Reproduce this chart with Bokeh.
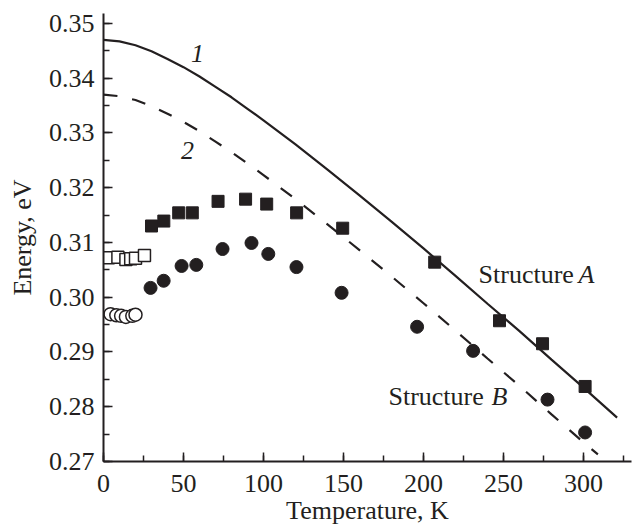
from bokeh.plotting import figure
from bokeh.models import Range1d, SingleIntervalTicker, NumeralTickFormatter, Label
from bokeh.embed import file_html
from bokeh.resources import INLINE

# Curve 1 (solid, structure A fit)
t1 = [0, 10, 20, 30, 40, 50, 60, 70, 80, 90, 100, 120, 140, 160, 180, 200, 220,
      240, 260, 280, 300, 321]
e1 = [0.3470, 0.3467, 0.3460, 0.3449, 0.3435, 0.3420, 0.3403, 0.3384, 0.3365,
      0.3344, 0.3323, 0.3279, 0.3233, 0.3186, 0.3138, 0.3089, 0.3039, 0.2988,
      0.2938, 0.2886, 0.2835, 0.2780]
# Curve 2 (dashed, structure B fit)
t2 = [0, 10, 20, 30, 40, 50, 60, 70, 80, 90, 100, 120, 140, 160, 180, 200, 220,
      240, 260, 280, 300, 309]
e2 = [0.3370, 0.3367, 0.3360, 0.3349, 0.3335, 0.3320, 0.3303, 0.3284, 0.3265,
      0.3244, 0.3223, 0.3179, 0.3133, 0.3086, 0.3038, 0.2989, 0.2939, 0.2888,
      0.2838, 0.2786, 0.2735, 0.2713]

# Structure A, filled squares
ta = [30, 37.7, 47, 55.5, 71.6, 88.8, 102, 120.7, 149.5, 207, 247.5, 274.4, 301]
ea = [0.3130, 0.3139, 0.3154, 0.3154, 0.3175, 0.3179, 0.3170, 0.3154, 0.3126,
      0.3064, 0.2957, 0.2915, 0.2837]
# Structure A, open squares (low T)
ta_o = [3, 9, 14, 17, 20, 25.6]
ea_o = [0.3072, 0.3073, 0.3069, 0.3070, 0.3071, 0.3076]

# Structure B, filled circles
tb = [29.4, 37.6, 48.8, 58, 74.4, 92.5, 103, 120.6, 148.8, 196, 231, 277.5, 301]
eb = [0.3017, 0.3030, 0.3057, 0.3059, 0.3088, 0.3099, 0.3079, 0.3055, 0.3008,
      0.2946, 0.2902, 0.2813, 0.2753]
# Structure B, open circles (low T)
tb_o = [4.4, 8, 11, 14, 18, 20]
eb_o = [0.2969, 0.2967, 0.2966, 0.2964, 0.2966, 0.2968]

FONT = "Liberation Serif"
INK = "#231f20"

p = figure(width=641, height=527, output_backend="svg", toolbar_location=None,
           x_range=Range1d(0, 330), y_range=Range1d(0.27, 0.3518),
           min_border_left=103, min_border_right=10, min_border_top=13,
           min_border_bottom=65)
p.outline_line_color = None
p.xgrid.visible = False
p.ygrid.visible = False
p.background_fill_color = "white"
p.border_fill_color = "white"

p.xaxis.ticker = SingleIntervalTicker(interval=50, num_minor_ticks=2)
p.yaxis.ticker = SingleIntervalTicker(interval=0.01, num_minor_ticks=2)
p.yaxis.formatter = NumeralTickFormatter(format="0.00")
p.xaxis.axis_label = "Temperature, K"
p.yaxis.axis_label = "Energy, eV"

for ax in (p.xaxis, p.yaxis):
    ax.axis_line_width = 2
    ax.axis_line_color = INK
    ax.major_tick_line_color = INK
    ax.minor_tick_line_color = INK
    ax.major_tick_line_width = 1.5
    ax.minor_tick_line_width = 1.5
    ax.major_tick_in = 9
    ax.major_tick_out = 0
    ax.minor_tick_in = 6
    ax.minor_tick_out = 0
    ax.major_label_text_font = FONT
    ax.major_label_text_font_size = "26px"
    ax.major_label_text_color = INK
    ax.axis_label_text_font = FONT
    ax.axis_label_text_font_size = "26px"
    ax.axis_label_text_font_style = "normal"
    ax.axis_label_text_color = INK

p.xaxis.major_label_standoff = 13
p.xaxis.axis_label_standoff = 1
p.yaxis.major_label_standoff = 9
p.yaxis.axis_label_standoff = 9

p.line(t1, e1, line_color=INK, line_width=2.2)
p.line(t2, e2, line_color=INK, line_width=2.2, line_dash="14 15")

p.scatter(ta, ea, marker="square", size=12, fill_color=INK, line_color=INK)
p.scatter(tb, eb, marker="circle", size=13, fill_color=INK, line_color=INK)
p.scatter(ta_o, ea_o, marker="square", size=12, fill_color="white",
          line_color=INK, line_width=1.5)
p.scatter(tb_o, eb_o, marker="circle", size=13, fill_color="white",
          line_color=INK, line_width=1.5)

def lab(x, y, text, style="normal", align="left", xo=0):
    p.add_layout(Label(x=x, y=y, text=text, x_offset=xo, text_font=FONT,
                       text_font_size="26px", text_font_style=style,
                       text_color=INK, text_align=align,
                       text_baseline="middle"))

lab(58.75, 0.3445, "1", style="italic", align="center")
lab(52.5, 0.3268, "2", style="italic", align="center")
lab(234.4, 0.3042, "Structure")
lab(234.4, 0.3042, "A", style="italic", xo=100)
lab(178.1, 0.2818, "Structure")
lab(178.1, 0.2818, "B", style="italic", xo=103)

open("out.html", "w").write(file_html(p, INLINE))
